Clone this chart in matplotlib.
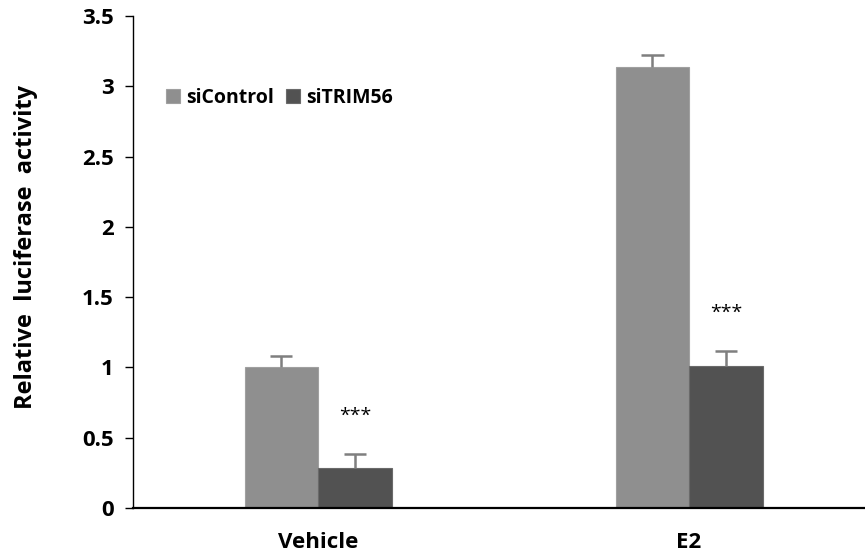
import matplotlib.pyplot as plt
import numpy as np

# données
groupes = ["Vehicle", "E2"]
series = ["siControl", "siTRIM56"]
si_control = [1.00, 3.14]
si_control_err = [0.08, 0.08]
si_trim56 = [0.285, 1.01]
si_trim56_err = [0.10, 0.11]
etoiles = ["***", "***"]

couleurs = ["#8f8f8f", "#525252"]
plt.rcParams['font.family'] = ['Open Sans', 'DejaVu Sans']

fig = plt.figure(figsize=(8.65, 5.57), dpi=100)
ax = fig.add_axes([133/865, 1 - 508/557, 1 - 133/865, (508 - 16)/557])

x = np.arange(len(groupes))
largeur = 0.198

ax.bar(x - largeur/2, si_control, largeur, color=couleurs[0], edgecolor="#a0a0a0",
       linewidth=0.8, label=series[0])
ax.bar(x + largeur/2, si_trim56, largeur, color=couleurs[1], edgecolor="#6a6a6a",
       linewidth=0.8, label=series[1])

# barres d'erreur vers le haut seulement
couleur_err = "#7f7f7f"
cap = 0.03
for xs, val, err in [(x - largeur/2, si_control, si_control_err),
                     (x + largeur/2, si_trim56, si_trim56_err)]:
    for i in range(len(xs)):
        ax.vlines(xs[i], val[i], val[i] + err[i], color=couleur_err, linewidth=1.8)
        ax.hlines(val[i] + err[i], xs[i] - cap, xs[i] + cap, color=couleur_err, linewidth=1.8)

for i in range(len(groupes)):
    haut = si_trim56[i] + si_trim56_err[i]
    ax.text(x[i] + largeur/2, haut + 0.27, etoiles[i], ha="center", va="center", fontsize=14)

ax.set_xlim(-0.4987, 1.474)
ax.set_ylim(0, 3.5)
ax.set_yticks(np.arange(0, 3.51, 0.5))
ax.set_yticklabels(["0", "0.5", "1", "1.5", "2", "2.5", "3", "3.5"], fontweight="bold", fontsize=16)
ax.set_xticks(x)
ax.set_xticklabels(groupes, fontweight="bold", fontsize=16)
ax.tick_params(axis="x", length=0, pad=17)
ax.tick_params(axis="y", length=6, width=1, direction="out", pad=8)

ax.spines["top"].set_visible(False)
ax.spines["right"].set_visible(False)
ax.spines["bottom"].set_linewidth(1.6)
ax.spines["left"].set_linewidth(1.0)

ax.set_ylabel("Relative  luciferase  activity", fontweight="bold", fontsize=17)
ax.yaxis.set_label_coords(-0.13, 0.53)

leg = ax.legend(loc="upper left", bbox_to_anchor=(0.021, 0.889), ncol=2, frameon=False,
                prop=dict(weight="bold", size=14), handlelength=0.75, handleheight=0.75,
                handletextpad=0.3, columnspacing=0.6)

fig.savefig("out.png", dpi=100)
